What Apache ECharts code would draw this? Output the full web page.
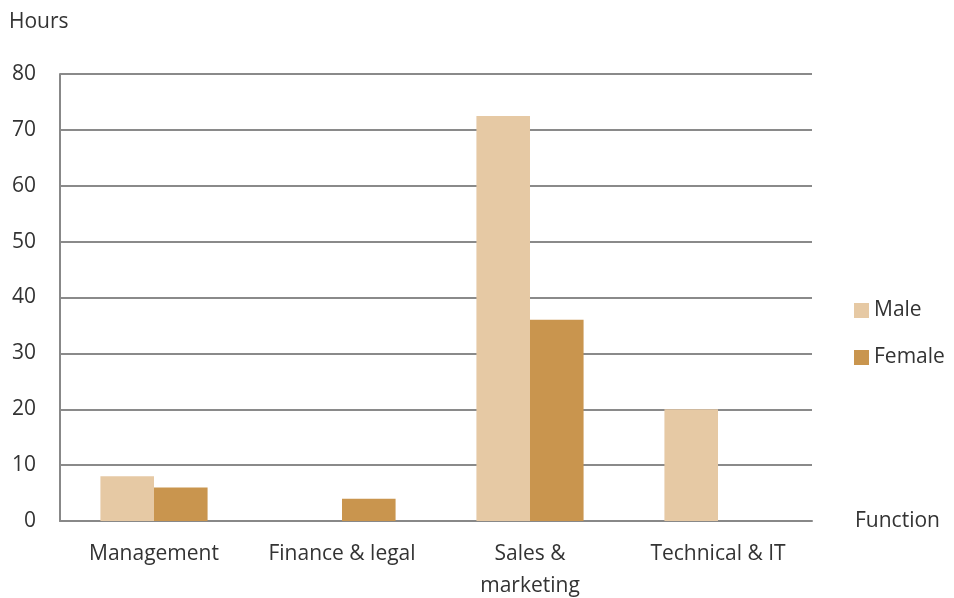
<!DOCTYPE html>
<html>
<head>
<meta charset="UTF-8">
<title>Hours by function</title>
<script type="text/javascript" src="https://cdn.jsdelivr.net/npm/echarts@6/dist/echarts.min.js"></script>
<style type="text/css">
	body{ margin:0; background:#fff; }
	#main{ width:954px; height:598px; }
</style>
</head>
<body>
<div id="main"></div>
<script type="text/javascript">
	var categories = ['Management', 'Finance & legal', 'Sales &\nmarketing', 'Technical & IT'];
	var maleHours = [8, 0, 72.5, 20];
	var femaleHours = [6, 4, 36, 0];

	var font = '"Open Sans", sans-serif';
	var myChart = echarts.init(document.getElementById('main'));

	var option = {
		animation: false,
		textStyle: { fontFamily: font },
		title: {
			text: 'Hours',
			left: 9,
			top: 12,
			padding: 0,
			textStyle: { fontSize: 21, fontWeight: 'normal', color: '#333', fontFamily: font }
		},
		legend: {
			orient: 'vertical',
			left: 854,
			top: 300,
			padding: 0,
			itemWidth: 15,
			itemHeight: 15,
			itemGap: 26,
			icon: 'rect',
			textStyle: { fontSize: 21, color: '#333', fontFamily: font },
			data: ['Male', 'Female']
		},
		grid: { left: 60, right: 142, top: 74, bottom: 77, outerBoundsMode: 'none', containLabel: false },
		xAxis: {
			type: 'category',
			data: categories,
			name: 'Function',
			nameLocation: 'end',
			nameGap: 43,
			nameTextStyle: { fontSize: 21, color: '#333', fontFamily: font, align: 'left', verticalAlign: 'middle' },
			axisLine: { lineStyle: { color: '#888', width: 2 } },
			axisTick: { show: false },
			axisLabel: { interval: 0, fontSize: 21, color: '#333', margin: 17, lineHeight: 32, fontFamily: font }
		},
		yAxis: {
			type: 'value',
			min: 0,
			max: 80,
			interval: 10,
			axisLine: { show: true, lineStyle: { color: '#888', width: 2 } },
			axisTick: { show: false },
			axisLabel: { fontSize: 21, color: '#333', margin: 24, fontFamily: font },
			splitLine: { lineStyle: { color: '#8a8a8a', width: 2 } }
		},
		series: [{
			name: 'Male',
			type: 'bar',
			data: maleHours,
			barGap: '0%',
			barCategoryGap: '43%',
			itemStyle: { color: '#E6C9A4' }
		}, {
			name: 'Female',
			type: 'bar',
			data: femaleHours,
			barGap: '0%',
			barCategoryGap: '43%',
			itemStyle: { color: '#C9954E' }
		}]
	};

	myChart.setOption(option);
</script>
</body>
</html>
